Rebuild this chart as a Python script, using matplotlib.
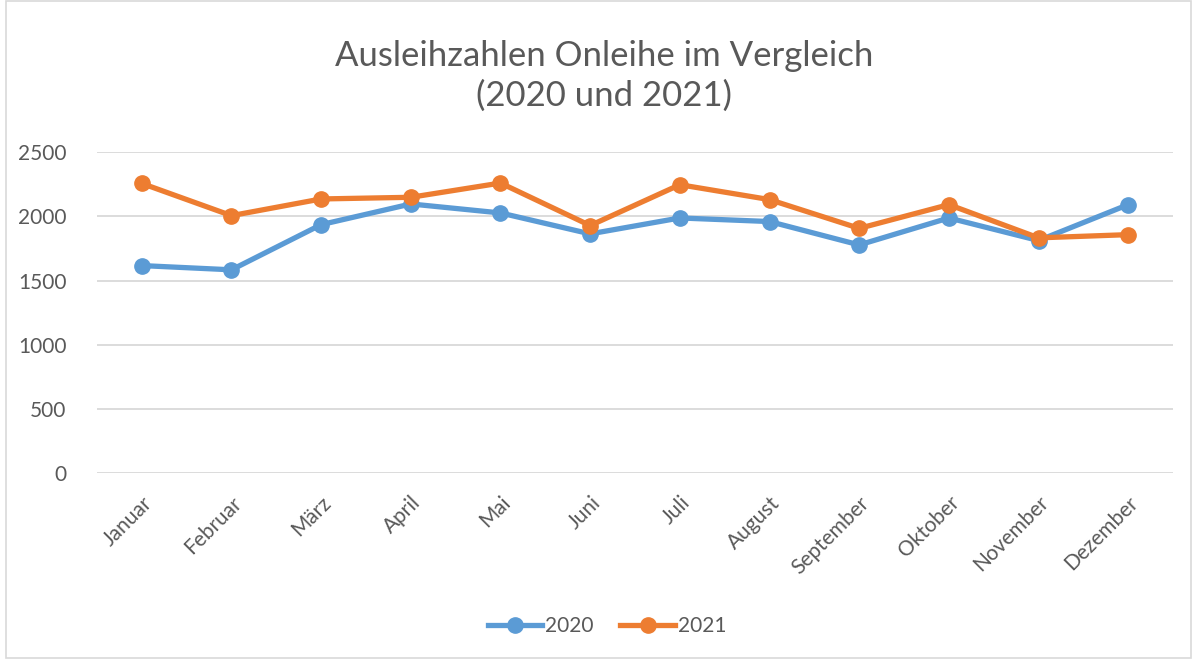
import numpy as np
import matplotlib
matplotlib.use('Agg')
import matplotlib.pyplot as plt
from matplotlib.patches import Rectangle

plt.rcParams['font.family'] = ['Lato', 'DejaVu Sans']

monate = ['Januar', 'Februar', 'März', 'April', 'Mai', 'Juni', 'Juli',
          'August', 'September', 'Oktober', 'November', 'Dezember']
werte_2020 = [1617, 1584, 1936, 2097, 2027, 1864, 1988, 1960, 1778, 1988, 1812, 2092]
werte_2021 = [2257, 2006, 2136, 2149, 2260, 1929, 2247, 2131, 1907, 2092, 1833, 1858]
y_ticks = [0, 500, 1000, 1500, 2000, 2500]

grau = '#595959'

fig = plt.figure(figsize=(11.97, 6.59), dpi=100)
ax = fig.add_axes([0.081, 0.282, 0.899, 0.487])

x = np.arange(len(monate))
ax.plot(x, werte_2020, color='#5B9BD5', lw=3.8, marker='o', ms=11, label='2020')
ax.plot(x, werte_2021, color='#ED7D31', lw=3.8, marker='o', ms=11, label='2021')

ax.set_xlim(-0.5, len(monate) - 0.5)
ax.set_ylim(0, 2500)
ax.set_yticks(y_ticks)
ax.set_yticklabels([str(v) for v in y_ticks], fontsize=15, color=grau)
ax.set_xticks(x)
ax.set_xticklabels(monate, rotation=45, ha='right', rotation_mode='anchor',
                   fontsize=15, color=grau)
ax.tick_params(axis='both', length=0)
ax.tick_params(axis='y', pad=22)
ax.tick_params(axis='x', pad=14)
ax.grid(axis='y', color='#d9d9d9', lw=1.3)
ax.set_axisbelow(True)
for s in ax.spines.values():
    s.set_visible(False)

fig.text(0.505, 0.885, 'Ausleihzahlen Onleihe im Vergleich\n(2020 und 2021)',
         ha='center', va='center', fontsize=25,
         color=grau, linespacing=1.3)

fig.legend(loc='center', bbox_to_anchor=(0.507, 0.05), ncol=2, frameon=False,
           fontsize=15, labelcolor=grau, handlelength=2.6, columnspacing=1.3,
           handletextpad=0.15)

fig.patches.append(Rectangle((0.005, 0.002), 0.99, 0.996, transform=fig.transFigure,
                             fill=False, edgecolor='#d9d9d9', lw=1.2))

fig.savefig('out.png', dpi=100)
